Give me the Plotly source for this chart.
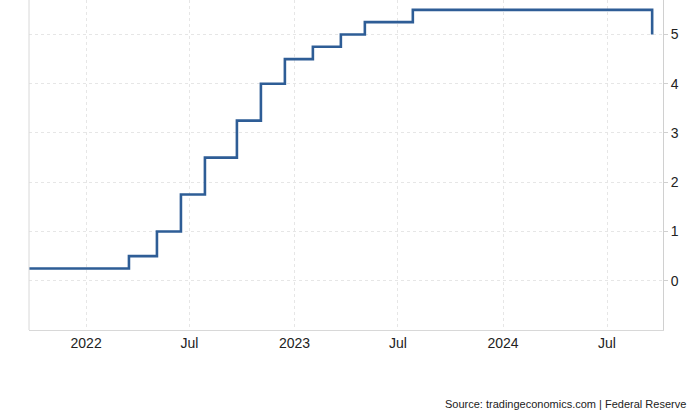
import plotly.graph_objects as go

# Fed funds target rate (upper bound), change dates
dates = ["2021-09-20", "2022-03-17", "2022-05-05", "2022-06-16", "2022-07-28",
         "2022-09-22", "2022-11-03", "2022-12-15", "2023-02-02", "2023-03-23",
         "2023-05-04", "2023-07-27", "2024-09-18"]
rates = [0.25, 0.50, 1.00, 1.75, 2.50, 3.25, 4.00, 4.50, 4.75, 5.00, 5.25, 5.50, 5.00]

x_ticks = ["2022-01-01", "2022-07-01", "2023-01-01", "2023-07-01", "2024-01-01", "2024-07-01"]
x_labels = ["2022", "Jul", "2023", "Jul", "2024", "Jul"]
y_ticks = [0, 1, 2, 3, 4, 5]

fig = go.Figure()
fig.add_trace(go.Scatter(
    x=dates, y=rates, mode="lines", line_shape="hv",
    line=dict(color="#2e5d96", width=2.6), hoverinfo="x+y", showlegend=False,
))

fig.update_layout(
    width=700, height=418,
    margin=dict(l=29, r=37, t=0, b=88, autoexpand=False),
    paper_bgcolor="white", plot_bgcolor="white",
    font=dict(family="Liberation Sans, Arial, sans-serif", size=14, color="#222222"),
    xaxis=dict(
        type="date", range=["2021-09-23", "2024-10-07"], automargin=False,
        tickvals=x_ticks, ticktext=x_labels,
        showgrid=True, gridcolor="#e6e6e6", griddash="dot", gridwidth=1,
        showline=True, linecolor="#d8d8d8", linewidth=1, mirror=False,
        ticks="", zeroline=False, tickfont=dict(size=14, color="#222222"),
    ),
    yaxis=dict(
        side="right", range=[-1.0, 5.7], automargin=False,
        tickvals=y_ticks,
        showgrid=True, gridcolor="#e6e6e6", griddash="dot", gridwidth=1,
        showline=True, linecolor="#d0d0d0", linewidth=1,
        ticks="outside", ticklen=4, tickcolor="#d0d0d0",
        zeroline=False, tickfont=dict(size=14, color="#222222"),
    ),
    shapes=[dict(type="line", xref="paper", yref="paper", x0=0, x1=0, y0=0, y1=1,
                 line=dict(color="#d8d8d8", width=1))],
    annotations=[dict(
        text="Source: tradingeconomics.com | Federal Reserve",
        xref="paper", yref="paper", x=1.0 + 25/634, y=-74/330,
        xanchor="right", yanchor="middle", showarrow=False,
        font=dict(size=11, color="#222222"),
    )],
)

fig.write_html("out.html", config={"displayModeBar": False},
               post_script="document.body.style.margin='0';")
